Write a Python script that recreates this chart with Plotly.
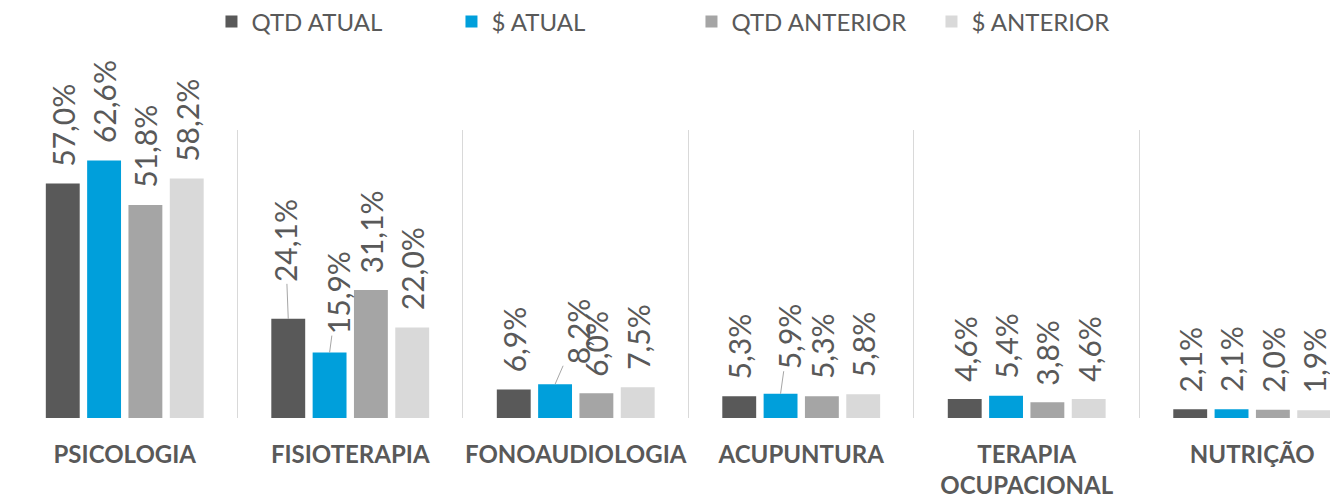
import plotly.graph_objects as go

# ---- data ----
categories = ["PSICOLOGIA", "FISIOTERAPIA", "FONOAUDIOLOGIA", "ACUPUNTURA",
              "TERAPIA<br>OCUPACIONAL", "NUTRIÇÃO"]
series_names = ["QTD ATUAL", "$ ATUAL", "QTD ANTERIOR", "$ ANTERIOR"]
qtd_atual = [57.0, 24.1, 6.9, 5.3, 4.6, 2.1]
valor_atual = [62.6, 15.9, 8.2, 5.9, 5.4, 2.1]
qtd_anterior = [51.8, 31.1, 6.0, 5.3, 3.8, 2.0]
valor_anterior = [58.2, 22.0, 7.5, 5.8, 4.6, 1.9]

# ---- styles ----
colors = ["#595959", "#009FDB", "#A5A5A5", "#D9D9D9"]
TEXT_COLOR = "#595959"
BARGAP = 0.267
GROUPGAP = 0.18
LABEL_FONT = "Lato, 'Open Sans', sans-serif"
CAT_FONT = "Lato, sans-serif"
# labels moved away from their bar (series index, category index) -> pixel offset
leader_offsets = {(0, 1): (-3, -78), (1, 1): (8, -60), (1, 2): (23, -53), (1, 3): (8, -57)}

all_series = [qtd_atual, valor_atual, qtd_anterior, valor_anterior]

fig = go.Figure()
for name, vals, col in zip(series_names, all_series, colors):
    fig.add_trace(go.Bar(x=categories, y=vals, name=name, marker_color=col,
                         marker_line_width=0, hoverinfo="skip"))

n = len(all_series)
slot = (1 - BARGAP) / n
annotations = []
for si, vals in enumerate(all_series):
    off = -(1 - BARGAP) / 2 + (si + 0.5) * slot
    for ci, v in enumerate(vals):
        txt = f"{v:.1f}".replace(".", ",") + "%"
        base = dict(x=ci + off, y=v, xref="x", yref="y", text=txt, textangle=-90,
                    font=dict(family=LABEL_FONT, size=30, color=TEXT_COLOR))
        if (si, ci) in leader_offsets:
            ax_, ay_ = leader_offsets[(si, ci)]
            base.update(showarrow=True, arrowhead=0, arrowwidth=1, arrowcolor="#A6A6A6",
                        ax=ax_, ay=ay_, standoff=0)
        else:
            base.update(showarrow=False, yanchor="bottom", xanchor="center", yshift=15)
        annotations.append(base)

fig.update_layout(
    width=1330, height=498,
    margin=dict(l=12, r=0, t=130, b=80, autoexpand=False),
    plot_bgcolor="white", paper_bgcolor="white",
    barmode="group", bargap=BARGAP, bargroupgap=GROUPGAP,
    showlegend=True,
    legend=dict(orientation="h", xref="container", yref="container",
                x=0.159, y=1 - 22 / 498, xanchor="left", yanchor="middle",
                font=dict(family=LABEL_FONT, size=24, color=TEXT_COLOR),
                entrywidth=195, entrywidthmode="pixels", itemclick=False),
    annotations=annotations,
    xaxis=dict(type="category", tickson="boundaries", showgrid=True,
               gridcolor="#D9D9D9", gridwidth=1, ticks="", showline=False,
               range=[-0.5, 5.345], zeroline=False, tickangle=0, automargin=False,
               tickfont=dict(family=CAT_FONT, size=24, color=TEXT_COLOR, weight="bold"),
               ticklabelstandoff=20),
    yaxis=dict(range=[0, 70], visible=False, showgrid=False, zeroline=False),
)

fig.write_html("out.html", config={"displayModeBar": False},
               post_script="document.body.style.margin='0';document.body.style.overflow='hidden';")
